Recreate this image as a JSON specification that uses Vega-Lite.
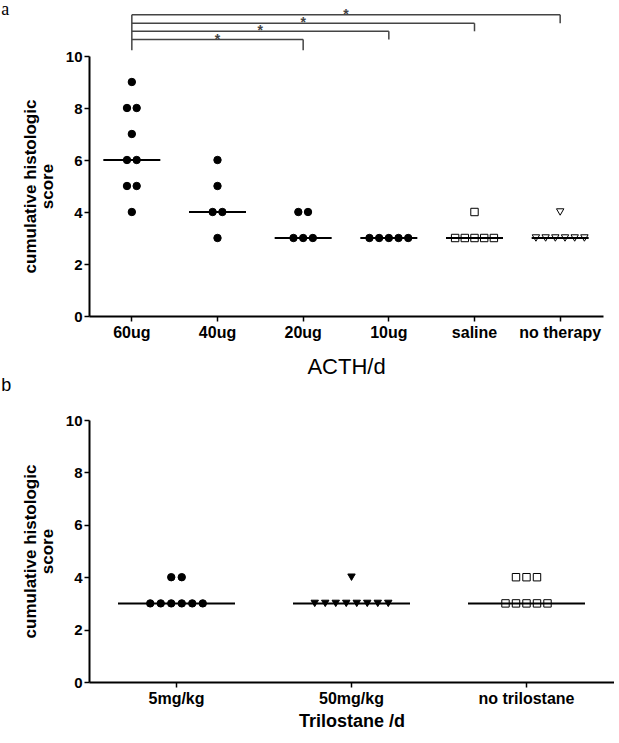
{
  "$schema": "https://vega.github.io/schema/vega-lite/v6.json",
  "background": "white",
  "padding": {"left": 1, "top": 0, "right": 0, "bottom": 0},
  "spacing": 0,
  "resolve": {"scale": {"x": "independent", "y": "independent", "xOffset": "independent", "shape": "independent", "fill": "independent"}},
  "config": {
    "view": {"stroke": null},
    "font": "Liberation Sans",
    "axis": {
      "domainColor": "black", "domainWidth": 2, "tickColor": "black", "tickWidth": 1.5, "tickSize": 5,
      "labelFont": "Liberation Sans", "labelFontWeight": "bold", "labelFontSize": 15, "labelColor": "black",
      "grid": false, "titleColor": "black", "titleFont": "Liberation Sans"
    }
  },
  "datasets": {
    "acth": [
      {"group": "60ug", "score": 9}, {"group": "60ug", "score": 8}, {"group": "60ug", "score": 8},
      {"group": "60ug", "score": 7}, {"group": "60ug", "score": 6}, {"group": "60ug", "score": 6},
      {"group": "60ug", "score": 5}, {"group": "60ug", "score": 5}, {"group": "60ug", "score": 4},
      {"group": "40ug", "score": 6}, {"group": "40ug", "score": 5}, {"group": "40ug", "score": 4},
      {"group": "40ug", "score": 4}, {"group": "40ug", "score": 3},
      {"group": "20ug", "score": 4}, {"group": "20ug", "score": 4}, {"group": "20ug", "score": 3},
      {"group": "20ug", "score": 3}, {"group": "20ug", "score": 3},
      {"group": "10ug", "score": 3}, {"group": "10ug", "score": 3}, {"group": "10ug", "score": 3},
      {"group": "10ug", "score": 3}, {"group": "10ug", "score": 3},
      {"group": "saline", "score": 4}, {"group": "saline", "score": 3}, {"group": "saline", "score": 3},
      {"group": "saline", "score": 3}, {"group": "saline", "score": 3}, {"group": "saline", "score": 3},
      {"group": "no therapy", "score": 4}, {"group": "no therapy", "score": 3}, {"group": "no therapy", "score": 3},
      {"group": "no therapy", "score": 3}, {"group": "no therapy", "score": 3}, {"group": "no therapy", "score": 3},
      {"group": "no therapy", "score": 3}
    ],
    "sig": [
      {"from": "60ug", "to": "20ug", "level": 10.63, "drop": 10.22, "label": "*"},
      {"from": "60ug", "to": "10ug", "level": 10.95, "drop": 10.63, "label": "*"},
      {"from": "60ug", "to": "saline", "level": 11.26, "drop": 10.95, "label": "*"},
      {"from": "60ug", "to": "no therapy", "level": 11.59, "drop": 11.26, "label": "*"}
    ],
    "tril": [
      {"group": "5mg/kg", "score": 4}, {"group": "5mg/kg", "score": 4},
      {"group": "5mg/kg", "score": 3}, {"group": "5mg/kg", "score": 3}, {"group": "5mg/kg", "score": 3},
      {"group": "5mg/kg", "score": 3}, {"group": "5mg/kg", "score": 3}, {"group": "5mg/kg", "score": 3},
      {"group": "50mg/kg", "score": 4},
      {"group": "50mg/kg", "score": 3}, {"group": "50mg/kg", "score": 3}, {"group": "50mg/kg", "score": 3},
      {"group": "50mg/kg", "score": 3}, {"group": "50mg/kg", "score": 3}, {"group": "50mg/kg", "score": 3},
      {"group": "50mg/kg", "score": 3}, {"group": "50mg/kg", "score": 3},
      {"group": "no trilostane", "score": 4}, {"group": "no trilostane", "score": 4}, {"group": "no trilostane", "score": 4},
      {"group": "no trilostane", "score": 3}, {"group": "no trilostane", "score": 3}, {"group": "no trilostane", "score": 3},
      {"group": "no trilostane", "score": 3}, {"group": "no trilostane", "score": 3}
    ]
  },
  "vconcat": [
    {
      "width": 514,
      "height": 260,
      "title": {"text": "a", "font": "Liberation Serif", "fontSize": 18, "fontWeight": "normal", "color": "black", "anchor": "start", "frame": "bounds", "offset": -11, "dx": -20},
      "layer": [
        {
          "data": {"name": "acth"},
          "transform": [
            {"window": [{"op": "row_number", "as": "i"}, {"op": "count", "as": "n"}], "groupby": ["group", "score"], "frame": [null, null]},
            {"calculate": "datum.i - (datum.n + 1) / 2", "as": "slot"}
          ],
          "mark": {"type": "point", "filled": true, "size": 55, "stroke": "black", "strokeWidth": 1, "opacity": 1},
          "encoding": {
            "x": {
              "field": "group", "type": "nominal",
              "scale": {"type": "band", "domain": ["60ug", "40ug", "20ug", "10ug", "saline", "no therapy"], "paddingInner": 0, "paddingOuter": 0},
              "axis": {"labelAngle": 0, "labelPadding": 3, "labelFontSize": 16, "title": "ACTH/d", "titleFontSize": 22, "titleFontWeight": "normal", "titlePadding": 16}
            },
            "xOffset": {"field": "slot", "type": "quantitative", "scale": {"domain": [-4.42, 4.42]}},
            "y": {
              "field": "score", "type": "quantitative",
              "scale": {"domain": [0, 10]},
              "axis": {"values": [0, 2, 4, 6, 8, 10], "labelPadding": 2, "title": ["cumulative histologic", "score"], "titleFontSize": 17, "titleLineHeight": 17, "titleFontWeight": "bold", "titlePadding": 9}
            },
            "shape": {"field": "group", "type": "nominal", "scale": {"domain": ["60ug", "40ug", "20ug", "10ug", "saline", "no therapy"], "range": ["circle", "circle", "circle", "circle", "square", "triangle-down"]}, "legend": null},
            "fill": {"field": "group", "type": "nominal", "scale": {"domain": ["60ug", "40ug", "20ug", "10ug", "saline", "no therapy"], "range": ["black", "black", "black", "black", "transparent", "transparent"]}, "legend": null}
          }
        },
        {
          "data": {"name": "acth"},
          "mark": {"type": "tick", "color": "black", "thickness": 2, "size": 57, "orient": "horizontal"},
          "encoding": {
            "x": {"field": "group", "type": "nominal"},
            "y": {"aggregate": "median", "field": "score", "type": "quantitative"}
          }
        },
        {
          "data": {"name": "sig"},
          "mark": {"type": "rule", "color": "#444444", "strokeWidth": 1.5},
          "encoding": {
            "x": {"field": "from", "type": "nominal", "bandPosition": 0.5},
            "x2": {"field": "to"},
            "y": {"field": "level", "type": "quantitative"}
          }
        },
        {
          "data": {"name": "sig"},
          "mark": {"type": "rule", "color": "#444444", "strokeWidth": 1.5},
          "encoding": {
            "x": {"field": "to", "type": "nominal", "bandPosition": 0.5},
            "y": {"field": "level", "type": "quantitative"},
            "y2": {"field": "drop"}
          }
        },
        {
          "data": {"name": "sig"},
          "transform": [
            {"aggregate": [{"op": "max", "field": "level", "as": "top"}, {"op": "min", "field": "drop", "as": "bottom"}], "groupby": ["from"]}
          ],
          "mark": {"type": "rule", "color": "#444444", "strokeWidth": 1.5},
          "encoding": {
            "x": {"field": "from", "type": "nominal", "bandPosition": 0.5},
            "y": {"field": "top", "type": "quantitative"},
            "y2": {"field": "bottom"}
          }
        },
        {
          "data": {"name": "sig"},
          "transform": [
            {"calculate": "indexof(['60ug','40ug','20ug','10ug','saline','no therapy'], datum.to)", "as": "idx"},
            {"filter": "datum.idx % 2 == 0"},
            {"calculate": "['60ug','40ug','20ug','10ug','saline','no therapy'][datum.idx / 2]", "as": "at"}
          ],
          "mark": {"type": "text", "fontSize": 14, "fontWeight": "bold", "color": "#444444", "baseline": "alphabetic", "dy": 4},
          "encoding": {
            "x": {"field": "at", "type": "nominal", "bandPosition": 0.5},
            "y": {"field": "level", "type": "quantitative"},
            "text": {"field": "label"}
          }
        },
        {
          "data": {"name": "sig"},
          "transform": [
            {"calculate": "indexof(['60ug','40ug','20ug','10ug','saline','no therapy'], datum.to)", "as": "idx"},
            {"filter": "datum.idx % 2 == 1"},
            {"calculate": "['60ug','40ug','20ug','10ug','saline','no therapy'][(datum.idx + 1) / 2]", "as": "at"}
          ],
          "mark": {"type": "text", "fontSize": 14, "fontWeight": "bold", "color": "#444444", "baseline": "alphabetic", "dy": 4},
          "encoding": {
            "x": {"field": "at", "type": "nominal", "bandPosition": 0},
            "y": {"field": "level", "type": "quantitative"},
            "text": {"field": "label"}
          }
        }
      ]
    },
    {
      "width": 525,
      "height": 262,
      "title": {"text": "b", "font": "Liberation Sans", "fontSize": 18, "fontWeight": "normal", "color": "black", "anchor": "start", "frame": "bounds", "offset": 18, "dx": -20},
      "layer": [
        {
          "data": {"name": "tril"},
          "transform": [
            {"window": [{"op": "row_number", "as": "i"}, {"op": "count", "as": "n"}], "groupby": ["group", "score"], "frame": [null, null]},
            {"calculate": "datum.i - (datum.n + 1) / 2", "as": "slot"}
          ],
          "mark": {"type": "point", "filled": true, "size": 55, "stroke": "black", "strokeWidth": 1, "opacity": 1},
          "encoding": {
            "x": {
              "field": "group", "type": "nominal",
              "scale": {"type": "band", "domain": ["5mg/kg", "50mg/kg", "no trilostane"], "paddingInner": 0, "paddingOuter": 0},
              "axis": {"labelAngle": 0, "labelPadding": 3, "labelFontSize": 16, "title": "Trilostane /d", "titleFontSize": 18, "titleFontWeight": "bold", "titlePadding": 6}
            },
            "xOffset": {"field": "slot", "type": "quantitative", "scale": {"domain": [-8.33, 8.33]}},
            "y": {
              "field": "score", "type": "quantitative",
              "scale": {"domain": [0, 10]},
              "axis": {"values": [0, 2, 4, 6, 8, 10], "labelPadding": 2, "title": ["cumulative histologic", "score"], "titleFontSize": 17, "titleLineHeight": 17, "titleFontWeight": "bold", "titlePadding": 9}
            },
            "shape": {"field": "group", "type": "nominal", "scale": {"domain": ["5mg/kg", "50mg/kg", "no trilostane"], "range": ["circle", "triangle-down", "square"]}, "legend": null},
            "fill": {"field": "group", "type": "nominal", "scale": {"domain": ["5mg/kg", "50mg/kg", "no trilostane"], "range": ["black", "black", "transparent"]}, "legend": null}
          }
        },
        {
          "data": {"name": "tril"},
          "mark": {"type": "tick", "color": "black", "thickness": 2, "size": 117, "orient": "horizontal"},
          "encoding": {
            "x": {"field": "group", "type": "nominal"},
            "y": {"aggregate": "median", "field": "score", "type": "quantitative"}
          }
        }
      ]
    }
  ]
}
